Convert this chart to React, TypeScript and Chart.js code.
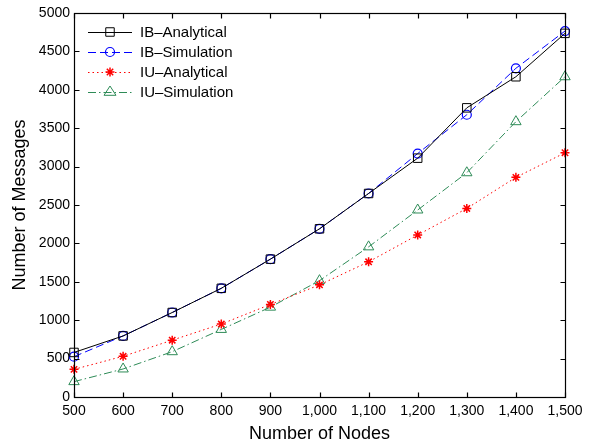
import React, { useEffect, useRef } from "react";
import { Chart, registerables } from "chart.js";

Chart.register(...registerables);

const nodes = [500, 600, 700, 800, 900, 1000, 1100, 1200, 1300, 1400, 1500];
const ibAnalytical = [580, 795, 1100, 1415, 1795, 2190, 2650, 3110, 3765, 4170, 4735];
const ibSimulation = [525, 795, 1100, 1415, 1795, 2190, 2650, 3170, 3675, 4280, 4765];
const iuAnalytical = [360, 530, 740, 950, 1205, 1460, 1760, 2110, 2455, 2860, 3180];
const iuSimulation = [200, 365, 590, 880, 1170, 1515, 1955, 2435, 2920, 3585, 4170];

const seriesLabels = ["IB\u2013Analytical", "IB\u2013Simulation", "IU\u2013Analytical", "IU\u2013Simulation"];
const xTicks = [500, 600, 700, 800, 900, 1000, 1100, 1200, 1300, 1400, 1500];
const yTicks = [0, 500, 1000, 1500, 2000, 2500, 3000, 3500, 4000, 4500, 5000];
const xTitle = "Number of Nodes";
const yTitle = "Number of Messages";

const FONT = "'Liberation Sans', Arial, Helvetica, sans-serif";

function drawMarker(ctx: CanvasRenderingContext2D, style: string, x: number, y: number, r: number, color: string, lw: number) {
  ctx.save();
  ctx.strokeStyle = color;
  ctx.lineWidth = lw;
  ctx.setLineDash([]);
  ctx.beginPath();
  if (style === "rect") {
    const s = r * Math.SQRT1_2;
    ctx.rect(x - s, y - s, 2 * s, 2 * s);
  } else if (style === "circle") {
    ctx.arc(x, y, r, 0, Math.PI * 2);
  } else if (style === "triangle") {
    ctx.moveTo(x, y - r);
    ctx.lineTo(x + r * 0.866 * 1.15, y + r * 0.5 * 1.1);
    ctx.lineTo(x - r * 0.866 * 1.15, y + r * 0.5 * 1.1);
    ctx.closePath();
  } else if (style === "star") {
    for (let i = 0; i < 4; i++) {
      const a = (i * Math.PI) / 4;
      ctx.moveTo(x + Math.cos(a) * r, y + Math.sin(a) * r);
      ctx.lineTo(x - Math.cos(a) * r, y - Math.sin(a) * r);
    }
  }
  ctx.stroke();
  ctx.restore();
}

const framePlugin = {
  id: "frame",
  afterDraw(chart: any) {
    const { ctx, chartArea, scales } = chart;
    const { left, right, top, bottom } = chartArea;
    const L = Math.round(left) + 0.5;
    const R = Math.round(right) + 0.5;
    const T = Math.round(top) + 0.5;
    const B = Math.round(bottom) + 0.5;
    ctx.save();
    ctx.strokeStyle = "#000";
    ctx.lineWidth = 1.2;
    ctx.setLineDash([]);
    ctx.strokeRect(L, T, R - L, B - T);
    ctx.beginPath();
    const tl = 5;
    xTicks.forEach((v) => {
      const px = Math.round(scales.x.getPixelForValue(v)) + 0.5;
      ctx.moveTo(px, B);
      ctx.lineTo(px, B - tl);
      ctx.moveTo(px, T);
      ctx.lineTo(px, T + tl);
    });
    yTicks.forEach((v) => {
      const py = Math.round(scales.y.getPixelForValue(v)) + 0.5;
      ctx.moveTo(L, py);
      ctx.lineTo(L + tl, py);
      ctx.moveTo(R, py);
      ctx.lineTo(R - tl, py);
    });
    ctx.stroke();
    ctx.restore();
  },
};

const legendPlugin = {
  id: "customLegend",
  afterDraw(chart: any) {
    const { ctx } = chart;
    const x0 = 88;
    const x1 = 132;
    const tx = 140;
    const y0 = 32;
    const dy = 20;
    chart.data.datasets.forEach((ds: any, i: number) => {
      const y = y0 + i * dy;
      ctx.save();
      ctx.strokeStyle = ds.borderColor;
      ctx.lineWidth = ds.borderWidth;
      ctx.setLineDash(ds.borderDash || []);
      ctx.beginPath();
      ctx.moveTo(x0, y + 0.5);
      ctx.lineTo(x1, y + 0.5);
      ctx.stroke();
      ctx.restore();
      drawMarker(ctx, ds.pointStyle, (x0 + x1) / 2, y, ds.pointRadius, ds.pointBorderColor, ds.pointBorderWidth);
      ctx.save();
      ctx.fillStyle = "#000";
      ctx.font = `15px ${FONT}`;
      ctx.textBaseline = "middle";
      ctx.textAlign = "left";
      ctx.fillText(ds.label, tx, y + 1);
      ctx.restore();
    });
  },
};

export default function App() {
  const canvasRef = useRef<HTMLCanvasElement | null>(null);

  useEffect(() => {
    const canvas = canvasRef.current;
    if (!canvas) return;
    const mk = (data: number[]) => nodes.map((n, i) => ({ x: n, y: data[i] }));
    const chart = new Chart(canvas, {
      type: "line",
      data: {
        datasets: [
          {
            label: seriesLabels[0],
            data: mk(ibAnalytical),
            borderColor: "#000000",
            borderWidth: 1,
            pointStyle: "rect",
            pointRadius: 6,
            pointBorderColor: "#000000",
            pointBackgroundColor: "rgba(0,0,0,0)",
            pointBorderWidth: 1,
            fill: false,
            tension: 0,
            clip: false,
          },
          {
            label: seriesLabels[1],
            data: mk(ibSimulation),
            borderColor: "#0000ff",
            borderWidth: 1,
            borderDash: [8, 4],
            pointStyle: "circle",
            pointRadius: 4.5,
            pointBorderColor: "#0000ff",
            pointBackgroundColor: "rgba(0,0,0,0)",
            pointBorderWidth: 1.2,
            fill: false,
            tension: 0,
            clip: false,
          },
          {
            label: seriesLabels[2],
            data: mk(iuAnalytical),
            borderColor: "#ff0000",
            borderWidth: 1,
            borderDash: [1.5, 3],
            pointStyle: "star",
            pointRadius: 4.5,
            pointBorderColor: "#ff0000",
            pointBackgroundColor: "#ff0000",
            pointBorderWidth: 1.5,
            fill: false,
            tension: 0,
            clip: false,
          },
          {
            label: seriesLabels[3],
            data: mk(iuSimulation),
            borderColor: "#2e8b57",
            borderWidth: 1,
            borderDash: [8, 3, 1.5, 3],
            pointStyle: "triangle",
            pointRadius: 6,
            pointBorderColor: "#2e8b57",
            pointBackgroundColor: "rgba(0,0,0,0)",
            pointBorderWidth: 1,
            fill: false,
            tension: 0,
            clip: false,
          },
        ] as any,
      },
      options: {
        responsive: false,
        animation: false,
        devicePixelRatio: 1,
        layout: { padding: { top: 13, right: 30, left: 0, bottom: 0 } },
        plugins: {
          legend: { display: false },
          tooltip: { enabled: false },
        },
        scales: {
          x: {
            type: "linear",
            min: 500,
            max: 1500,
            afterBuildTicks: (scale: any) => {
              scale.ticks = xTicks.map((v) => ({ value: v }));
            },
            afterFit: (scale: any) => {
              scale.height = 49;
            },
            grid: { display: false, drawTicks: false },
            border: { display: false },
            ticks: {
              autoSkip: false,
              maxRotation: 0,
              padding: 6,
              color: "#000",
              font: { family: FONT, size: 14 },
              callback: (v: any) => Number(v).toLocaleString("en-US"),
            },
            title: {
              display: true,
              text: xTitle,
              color: "#000",
              font: { family: FONT, size: 18 },
              padding: { top: 0, bottom: 1 },
            },
          },
          y: {
            type: "linear",
            min: 0,
            max: 5000,
            afterBuildTicks: (scale: any) => {
              scale.ticks = yTicks.map((v) => ({ value: v }));
            },
            afterFit: (scale: any) => {
              scale.width = 74;
            },
            grid: { display: false, drawTicks: false },
            border: { display: false },
            ticks: {
              autoSkip: false,
              padding: 4,
              color: "#000",
              font: { family: FONT, size: 14 },
              callback: (v: any) => String(v),
            },
            title: {
              display: true,
              text: yTitle,
              color: "#000",
              font: { family: FONT, size: 18 },
              padding: { top: 9, bottom: 0 },
            },
          },
        },
      } as any,
      plugins: [framePlugin, legendPlugin],
    });
    return () => chart.destroy();
  }, []);

  return (
    <div style={{ position: "absolute", left: 0, top: 0, width: 595, height: 446, background: "#fff" }}>
      <canvas ref={canvasRef} width={595} height={446} style={{ width: 595, height: 446 }} />
    </div>
  );
}
